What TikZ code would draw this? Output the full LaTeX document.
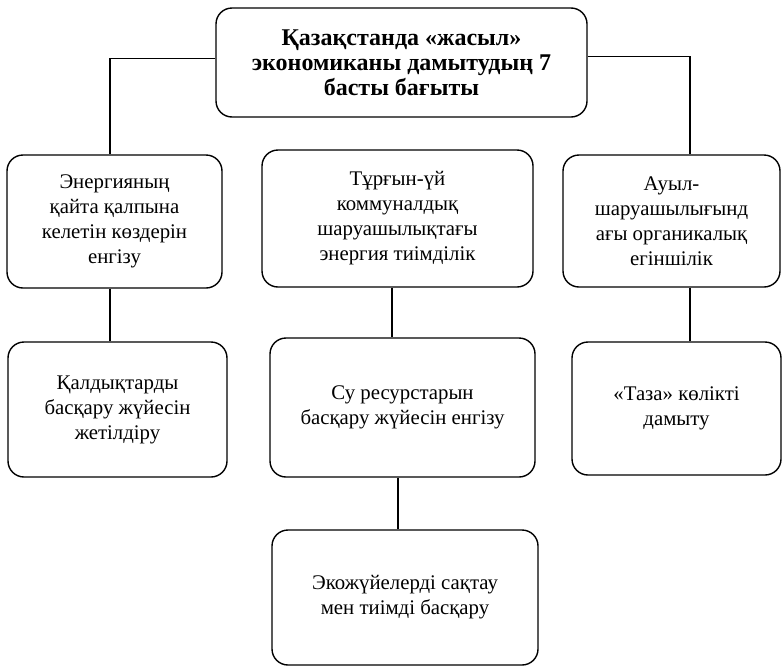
\documentclass[tikz,border=0pt]{standalone}
\usepackage{fontspec}
\setmainfont{Liberation Serif}
\begin{document}
\begin{tikzpicture}[x=1pt,y=-1pt,
  box/.style={draw,line width=1.4pt,rounded corners=16pt,align=center,inner sep=0pt,
    font=\fontsize{20.8}{25}\selectfont},
  link/.style={line width=1.4pt}]
\useasboundingbox (0,0) rectangle (783,667);
\node[box,minimum width=371pt,minimum height=109pt,font=\fontsize{24}{24.8}\selectfont\bfseries] (top) at (401.5,62.5)
  {Қазақстанда «жасыл»\\экономиканы дамытудың 7\\басты бағыты};
\node[box,minimum width=215pt,minimum height=133pt] (L1) at (114.5,221.5)
  {Энергияның\\қайта қалпына\\келетін көздерін\\енгізу};
\node[box,minimum width=271pt,minimum height=137pt] (M1) at (397.5,218.5)
  {Тұрғын-үй\\коммуналдық\\шаруашылықтағы\\энергия тиімділік};
\node[box,minimum width=217pt,minimum height=132pt] (R1) at (671.5,221)
  {Ауыл-\\шаруашылығынд\\ағы органикалық\\егіншілік};
\node[box,minimum width=219pt,minimum height=135pt] (L2) at (117.5,409.5)
  {Қалдықтарды\\басқару жүйесін\\жетілдіру};
\node[box,minimum width=265pt,minimum height=139pt] (M2) at (402.5,407.5)
  {Су ресурстарын\\басқару жүйесін енгізу};
\node[box,minimum width=209pt,minimum height=133pt] (R2) at (676.5,408.5)
  {«Таза» көлікті\\дамыту};
\node[box,minimum width=266pt,minimum height=135pt] (B) at (405,597.5)
  {Экожүйелерді сақтау\\мен тиімді басқару};
\draw[link] ([yshift=4pt]top.west) -| ([xshift=-4.5pt]L1.north);
\draw[link] ([yshift=6pt]top.east) -| ([xshift=18.5pt]R1.north);
\draw[link] ([xshift=-4.5pt]L1.south) -- ([xshift=-7.5pt]L2.north);
\draw[link] ([xshift=-5.5pt]M1.south) -- ([xshift=-10.5pt]M2.north);
\draw[link] ([xshift=18.5pt]R1.south) -- ([xshift=13.5pt]R2.north);
\draw[link] ([xshift=-4.5pt]M2.south) -- ([xshift=-7pt]B.north);
\end{tikzpicture}
\end{document}
